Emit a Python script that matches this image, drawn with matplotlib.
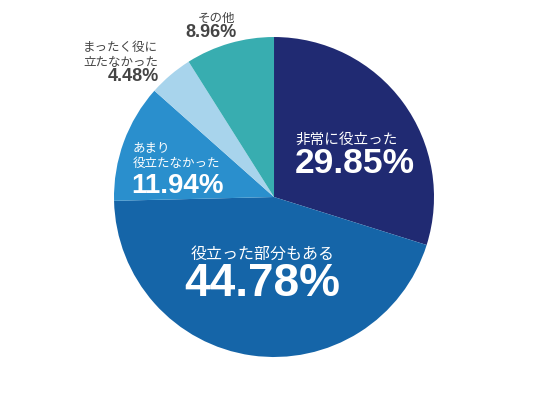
import matplotlib
matplotlib.use("Agg")
import matplotlib.pyplot as plt

plt.rcParams["font.family"] = ["Noto Sans CJK JP", "DejaVu Sans"]

# data
categories = ["非常に役立った", "役立った部分もある", "あまり\n役立たなかった", "まったく役に\n立たなかった", "その他"]
shares = [29.85, 44.78, 11.94, 4.48, 8.96]
colors = ["#202a72", "#1565a8", "#2a8fcd", "#a8d4ec", "#38adb0"]

fig = plt.figure(figsize=(5.5, 3.98), dpi=100)
ax = fig.add_axes([0.2073, 0.103, 0.5818, 0.804])
ax.pie(shares, colors=colors, startangle=90, counterclock=False,
       wedgeprops=dict(linewidth=0))
ax.set_xlim(-1, 1)
ax.set_ylim(-1, 1)
ax.set_aspect("auto")
ax.axis("off")

white = "white"
grey = "#444444"
num_font = ["Liberation Sans", "DejaVu Sans"]
pct = [f"{v:.2f}%" for v in shares]


def lines(x, ys, text, **kw):
    for y, line in zip(ys, text.split("\n")):
        ax.text(x, y, line, va="center", **kw)


# 非常に役立った
lines(0.135, [0.356], categories[0], color=white, fontsize=10.5, ha="left")
ax.text(0.13, 0.21, pct[0], color=white, fontsize=25.5, fontweight="bold",
        family=num_font, ha="left", va="center")

# 役立った部分もある
lines(-0.07, [-0.356], categories[1], color=white, fontsize=11.5, ha="center")
ax.text(-0.075, -0.545, pct[1], color=white, fontsize=33, fontweight="bold",
        family=num_font, ha="center", va="center")

# あまり役立たなかった
lines(-0.885, [0.306, 0.212], categories[2], color=white, fontsize=9, ha="left")
ax.text(-0.89, 0.069, pct[2], color=white, fontsize=20, fontweight="bold",
        family=num_font, ha="left", va="center")

# まったく役に立たなかった (outside)
lines(-0.725, [0.9375, 0.84], categories[3], color=grey, fontsize=9, ha="right")
ax.text(-0.72, 0.756, pct[3], color=grey, fontsize=13, fontweight="bold",
        family=num_font, ha="right", va="center")

# その他 (outside)
lines(-0.24, [1.119], categories[4], color=grey, fontsize=9, ha="right")
ax.text(-0.235, 1.028, pct[4], color=grey, fontsize=13, fontweight="bold",
        family=num_font, ha="right", va="center")

fig.savefig("out.png", dpi=100, facecolor="white")
